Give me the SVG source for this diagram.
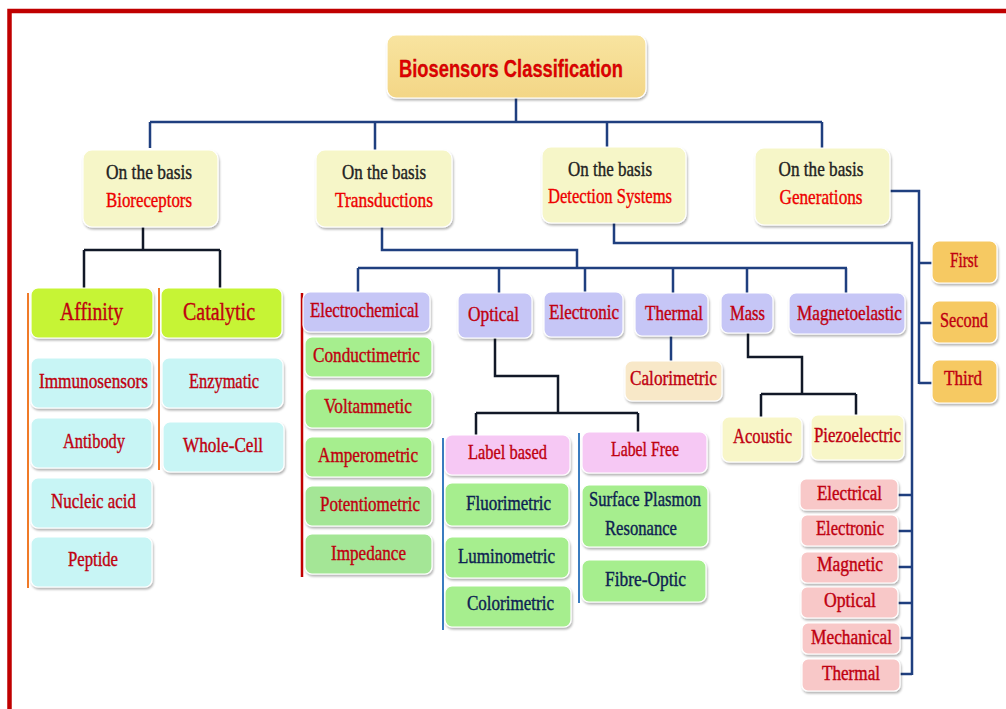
<svg xmlns="http://www.w3.org/2000/svg" width="1006" height="709" viewBox="0 0 1006 709">
<defs>
<filter id="sh" x="-10%" y="-10%" width="125%" height="135%">
<feDropShadow dx="1" dy="2" stdDeviation="1.2" flood-color="#000" flood-opacity="0.3"/>
</filter>
<linearGradient id="gold" x1="0" y1="0" x2="0" y2="1"><stop offset="0" stop-color="#f8e4a0"/><stop offset="1" stop-color="#f3d686"/></linearGradient>
<style>
.b{stroke:#ffffff;stroke-width:1.2;filter:url(#sh)}
.title{fill:url(#gold)}
.l1{fill:#f6f6c8}
.lime{fill:#c6f434}
.cyan{fill:#c8f5f5}
.lav{fill:#c6c6f6}
.grn{fill:#a6ee8e}
.pink{fill:#f6c8f4}
.beige{fill:#f8e8c8}
.cream{fill:#f8f6c8}
.gold{fill:#f6c962}
.lp{fill:#f8c8c8}
text{font-family:"Liberation Serif",serif;text-anchor:middle;stroke-width:0.4px}
.t0{font-family:"Liberation Sans",Arial,sans-serif;font-weight:bold;font-size:24px;fill:#e00000;stroke:#b00000;stroke-width:0.3px}
.k{font-size:22px;fill:#222;stroke:#222}
.r{font-size:22px;fill:#ee0000;stroke:#ee0000}
.d{font-size:21px;fill:#c00010;stroke:#c00010}
.big{font-size:26px;fill:#c00010;stroke:#c00010}
.n{font-size:21px;fill:#0d2252;stroke:#0d2252}
.s{font-size:20px;fill:#c00010;stroke:#c00010}
.nv{fill:none;stroke:#1f3f7f;stroke-width:2.5}
.bk{fill:none;stroke:#111827;stroke-width:2.5}
</style>
</defs>
<rect width="1006" height="709" fill="#ffffff"/>
<path d="M9.5,720 V11 H1012" fill="none" stroke="#c00000" stroke-width="4.5"/>

<g id="connectors">
<path class="nv" d="M516,98 V122 M150,122 H822 M150,122 V148 M375,122 V150 M607,122 V147 M822,122 V148"/>
<path class="bk" d="M143,227 V250 M84,250 H220 M84,250 V288 M220,250 V288"/>
<path class="nv" d="M382,227 V250 H577 V268 M358,268 H847 M358,268 V292 M499,268 V293 M585,268 V292 M673,268 V293 M747,268 V293 M846,268 V293"/>
<path class="bk" d="M495,338 V376 H558 V413 M476,413 H638 M476,413 V435 M638,413 V432"/>
<path class="nv" d="M671,336 V361"/>
<path class="bk" d="M748,333 V357 H802 V394 M761,394 H856 M761,394 V417 M856,394 V415"/>
<path class="nv" d="M890,191 H919 V384 M919,263 H932 M919,323 H932 M919,383 H932"/>
<path class="nv" d="M614,223 V243 H912 V675"/>
<path class="nv" stroke-width="3.5" d="M898,495 H912 M898,531 H912 M898,567 H912 M898,603 H912 M900,638 H912 M900,674 H912"/>
<path fill="none" stroke="#f07a28" stroke-width="2" d="M28,293 V588 M159,288 V470"/>
<path fill="none" stroke="#c00000" stroke-width="2.5" d="M302,293 V577"/>
<path fill="none" stroke="#3a7cc0" stroke-width="2" d="M443,438 V630 M579,433 V603"/>
</g>

<g id="n-title"><rect class="b title" x="387" y="35" width="259" height="63" rx="9"/><text class="t0" x="511" y="77" textLength="224" lengthAdjust="spacingAndGlyphs">Biosensors Classification</text></g>

<g id="n-bioreceptors"><rect class="b l1" x="83" y="150" width="135" height="77" rx="9"/><text class="k" x="149" y="179" textLength="86" lengthAdjust="spacingAndGlyphs">On the basis</text><text class="r" x="149" y="207" textLength="86" lengthAdjust="spacingAndGlyphs">Bioreceptors</text></g>
<g id="n-transductions"><rect class="b l1" x="316" y="150" width="136" height="77" rx="9"/><text class="k" x="384" y="179" textLength="84" lengthAdjust="spacingAndGlyphs">On the basis</text><text class="r" x="384" y="207" textLength="98" lengthAdjust="spacingAndGlyphs">Transductions</text></g>
<g id="n-detection"><rect class="b l1" x="542" y="147" width="144" height="76" rx="9"/><text class="k" x="610" y="176" textLength="84" lengthAdjust="spacingAndGlyphs">On the basis</text><text class="r" x="610" y="203" textLength="124" lengthAdjust="spacingAndGlyphs">Detection Systems</text></g>
<g id="n-generations"><rect class="b l1" x="755" y="148" width="135" height="77" rx="9"/><text class="k" x="821" y="176" textLength="85" lengthAdjust="spacingAndGlyphs">On the basis</text><text class="r" x="821" y="204" textLength="83" lengthAdjust="spacingAndGlyphs">Generations</text></g>

<g id="n-affinity"><rect class="b lime" x="31" y="288" width="122" height="50" rx="7"/><text class="big" x="91.5" y="320" textLength="63" lengthAdjust="spacingAndGlyphs">Affinity</text></g>
<g id="n-catalytic"><rect class="b lime" x="161" y="288" width="121" height="50" rx="7"/><text class="big" x="219" y="320" textLength="72" lengthAdjust="spacingAndGlyphs">Catalytic</text></g>
<g id="n-immunosensors"><rect class="b cyan" x="31" y="358" width="121" height="50" rx="7"/><text class="d" x="93.5" y="388" textLength="109" lengthAdjust="spacingAndGlyphs">Immunosensors</text></g>
<g id="n-antibody"><rect class="b cyan" x="31" y="418" width="121" height="50" rx="7"/><text class="d" x="94" y="448" textLength="62" lengthAdjust="spacingAndGlyphs">Antibody</text></g>
<g id="n-nucleic"><rect class="b cyan" x="31" y="478" width="121" height="50" rx="7"/><text class="d" x="93.5" y="508" textLength="85" lengthAdjust="spacingAndGlyphs">Nucleic acid</text></g>
<g id="n-peptide"><rect class="b cyan" x="31" y="537" width="121" height="50" rx="7"/><text class="d" x="93" y="566" textLength="50" lengthAdjust="spacingAndGlyphs">Peptide</text></g>
<g id="n-enzymatic"><rect class="b cyan" x="162" y="358" width="121" height="50" rx="7"/><text class="d" x="224" y="388" textLength="70" lengthAdjust="spacingAndGlyphs">Enzymatic</text></g>
<g id="n-wholecell"><rect class="b cyan" x="163" y="422" width="121" height="50" rx="7"/><text class="d" x="223" y="452" textLength="80" lengthAdjust="spacingAndGlyphs">Whole-Cell</text></g>

<g id="n-electrochemical"><rect class="b lav" x="303" y="292" width="127" height="40" rx="7"/><text class="d" x="364.5" y="317" textLength="109" lengthAdjust="spacingAndGlyphs">Electrochemical</text></g>
<g id="n-optical"><rect class="b lav" x="458" y="293" width="74" height="45" rx="7"/><text class="d" x="493.5" y="321" textLength="51" lengthAdjust="spacingAndGlyphs">Optical</text></g>
<g id="n-electronic"><rect class="b lav" x="544" y="292" width="79" height="45" rx="7"/><text class="d" x="584" y="319" textLength="70" lengthAdjust="spacingAndGlyphs">Electronic</text></g>
<g id="n-thermal"><rect class="b lav" x="635" y="293" width="73" height="43" rx="7"/><text class="d" x="674" y="320" textLength="58" lengthAdjust="spacingAndGlyphs">Thermal</text></g>
<g id="n-mass"><rect class="b lav" x="721" y="293" width="52" height="40" rx="7"/><text class="d" x="747.5" y="320" textLength="35" lengthAdjust="spacingAndGlyphs">Mass</text></g>
<g id="n-magnetoelastic"><rect class="b lav" x="789" y="293" width="116" height="41" rx="7"/><text class="d" x="849.5" y="320" textLength="105" lengthAdjust="spacingAndGlyphs">Magnetoelastic</text></g>

<g id="n-conductimetric"><rect class="b grn" x="305" y="337" width="127" height="40" rx="7"/><text class="d" x="366.5" y="362" textLength="107" lengthAdjust="spacingAndGlyphs">Conductimetric</text></g>
<g id="n-voltammetic"><rect class="b grn" x="305" y="389" width="127" height="39" rx="7"/><text class="d" x="368" y="413" textLength="88" lengthAdjust="spacingAndGlyphs">Voltammetic</text></g>
<g id="n-amperometric"><rect class="b grn" x="305" y="437" width="127" height="40" rx="7"/><text class="d" x="368" y="462" textLength="100" lengthAdjust="spacingAndGlyphs">Amperometric</text></g>
<g id="n-potentiometric"><rect class="b grn" x="305" y="486" width="127" height="40" rx="7" style="fill:#a4e696"/><text class="d" x="370" y="511" textLength="100" lengthAdjust="spacingAndGlyphs">Potentiometric</text></g>
<g id="n-impedance"><rect class="b grn" x="305" y="534" width="127" height="40" rx="7" style="fill:#a4e696"/><text class="d" x="368.5" y="560" textLength="75" lengthAdjust="spacingAndGlyphs">Impedance</text></g>

<g id="n-labelbased"><rect class="b pink" x="445" y="435" width="125" height="40" rx="7"/><text class="d" x="507.5" y="459" textLength="79" lengthAdjust="spacingAndGlyphs">Label based</text></g>
<g id="n-labelfree"><rect class="b pink" x="582" y="432" width="125" height="41" rx="7"/><text class="d" x="645" y="456" textLength="68" lengthAdjust="spacingAndGlyphs">Label Free</text></g>
<g id="n-fluorimetric"><rect class="b grn" x="445" y="483" width="124" height="43" rx="7"/><text class="n" x="508.5" y="510" textLength="85" lengthAdjust="spacingAndGlyphs">Fluorimetric</text></g>
<g id="n-luminometric"><rect class="b grn" x="445" y="537" width="124" height="41" rx="7"/><text class="n" x="506.5" y="563" textLength="97" lengthAdjust="spacingAndGlyphs">Luminometric</text></g>
<g id="n-colorimetric"><rect class="b grn" x="445" y="586" width="126" height="41" rx="7"/><text class="n" x="510.5" y="610" textLength="87" lengthAdjust="spacingAndGlyphs">Colorimetric</text></g>
<g id="n-spr"><rect class="b grn" x="582" y="485" width="126" height="62" rx="7"/><text class="n" x="645" y="506" textLength="112" lengthAdjust="spacingAndGlyphs">Surface Plasmon</text><text class="n" x="641" y="535" textLength="72" lengthAdjust="spacingAndGlyphs">Resonance</text></g>
<g id="n-fibreoptic"><rect class="b grn" x="582" y="560" width="124" height="42" rx="7"/><text class="n" x="645.5" y="586" textLength="81" lengthAdjust="spacingAndGlyphs">Fibre-Optic</text></g>

<g id="n-calorimetric"><rect class="b beige" x="625" y="361" width="97" height="40" rx="7"/><text class="d" x="673.5" y="385" textLength="87" lengthAdjust="spacingAndGlyphs">Calorimetric</text></g>
<g id="n-acoustic"><rect class="b cream" x="722" y="417" width="80" height="45" rx="7"/><text class="d" x="762.5" y="443" textLength="59" lengthAdjust="spacingAndGlyphs">Acoustic</text></g>
<g id="n-piezoelectric"><rect class="b cream" x="811" y="415" width="93" height="45" rx="7"/><text class="d" x="857.5" y="442" textLength="87" lengthAdjust="spacingAndGlyphs">Piezoelectric</text></g>

<g id="n-first"><rect class="b gold" x="932" y="241" width="65" height="42" rx="7"/><text class="d" x="964" y="267" textLength="28" lengthAdjust="spacingAndGlyphs">First</text></g>
<g id="n-second"><rect class="b gold" x="932" y="301" width="65" height="42" rx="7"/><text class="d" x="964" y="327" textLength="48" lengthAdjust="spacingAndGlyphs">Second</text></g>
<g id="n-third"><rect class="b gold" x="932" y="360" width="65" height="43" rx="7"/><text class="d" x="963" y="385" textLength="38" lengthAdjust="spacingAndGlyphs">Third</text></g>

<g id="n-d-electrical"><rect class="b lp" x="800" y="479" width="98" height="31" rx="6"/><text class="s" x="849.5" y="500" textLength="65" lengthAdjust="spacingAndGlyphs">Electrical</text></g>
<g id="n-d-electronic"><rect class="b lp" x="801" y="515" width="97" height="31" rx="6"/><text class="s" x="850" y="535" textLength="68" lengthAdjust="spacingAndGlyphs">Electronic</text></g>
<g id="n-d-magnetic"><rect class="b lp" x="801" y="552" width="97" height="31" rx="6"/><text class="s" x="850" y="571" textLength="66" lengthAdjust="spacingAndGlyphs">Magnetic</text></g>
<g id="n-d-optical"><rect class="b lp" x="801" y="587" width="97" height="31" rx="6"/><text class="s" x="850" y="607" textLength="52" lengthAdjust="spacingAndGlyphs">Optical</text></g>
<g id="n-d-mechanical"><rect class="b lp" x="802" y="623" width="98" height="31" rx="6"/><text class="s" x="851.5" y="644" textLength="81" lengthAdjust="spacingAndGlyphs">Mechanical</text></g>
<g id="n-d-thermal"><rect class="b lp" x="802" y="659" width="98" height="32" rx="6"/><text class="s" x="851" y="680" textLength="58" lengthAdjust="spacingAndGlyphs">Thermal</text></g>
</svg>
